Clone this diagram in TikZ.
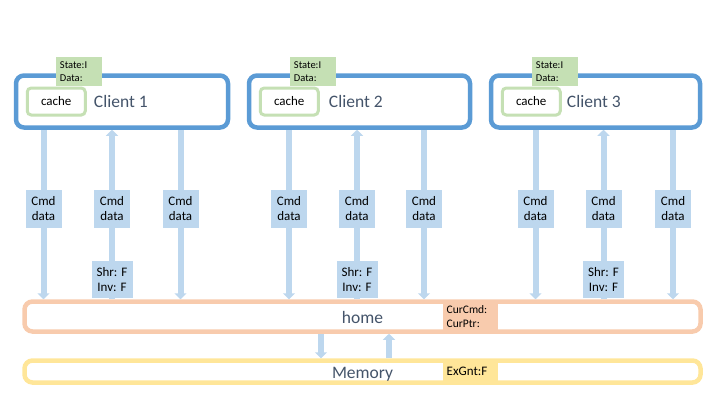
\documentclass[tikz,border=0pt]{standalone}
\usepackage{fontspec}
\setmainfont{Carlito}
\usetikzlibrary{arrows.meta,positioning,backgrounds}
\definecolor{clientblue}{HTML}{5B9BD5}
\definecolor{flowblue}{HTML}{BDD7EE}
\definecolor{cachegreen}{HTML}{C5E0B4}
\definecolor{homepeach}{HTML}{F8CBAD}
\definecolor{memyellow}{HTML}{FFE699}
\definecolor{labelgray}{HTML}{44546A}
\tikzset{
  client/.style    ={rectangle, rounded corners=8pt, draw=clientblue, line width=4.5pt,
                     fill=white, minimum height=52pt},
  cache/.style     ={rectangle, rounded corners=4pt, draw=cachegreen, line width=3pt,
                     fill=white, minimum width=58pt, minimum height=27pt,
                     font=\fontsize{13}{15}\selectfont},
  statebox/.style  ={rectangle, fill=cachegreen, text width=38pt, inner xsep=4pt,
                     minimum height=29pt, align=left, font=\fontsize{10.5}{12.5}\selectfont},
  clientname/.style={inner sep=0pt, text=labelgray, font=\fontsize{17.5}{20}\selectfont},
  msg/.style       ={rectangle, fill=flowblue, minimum width=36pt, minimum height=38pt,
                     inner sep=1pt, align=center, font=\fontsize{13}{15}\selectfont},
  flag/.style      ={msg, minimum width=41pt, minimum height=37pt},
  bar/.style       ={rectangle, rounded corners=8pt, line width=4.5pt, fill=white,
                     minimum width=676pt, inner sep=0pt, text height=14pt, text depth=0pt,
                     text=labelgray, font=\fontsize{17.5}{20}\selectfont},
  regtag/.style    ={rectangle, inner xsep=4pt, inner ysep=1pt, minimum width=55pt,
                     text width=47pt, align=left},
  flow/.style      ={-{Triangle[width=12pt,length=6pt]}, line width=6pt, draw=flowblue},
}

\begin{document}
\begin{tikzpicture}[x=1pt, y=-1pt]
  \useasboundingbox (0,0) rectangle (720,405);
  % clients
  \node[client, minimum width=212pt] (c1) at (122,101.5) {};
  \node[client, minimum width=221pt] (c2) at (359.5,101.5) {};
  \node[client, minimum width=209pt] (c3) at (595.5,101.5) {};
  \node[cache, right=12pt of c1.west] (ca1) {cache};
  \node[cache, right=12pt of c2.west] (ca2) {cache};
  \node[cache, right=12pt of c3.west] (ca3) {cache};
  \node[clientname, right=7pt of ca1] (n1) {Client 1};
  \node[clientname, right=9pt of ca2] (n2) {Client 2};
  \node[clientname, right=5pt of ca3] (n3) {Client 3};
  \node[statebox, above right=0pt and 30pt of ca1.north west] (s1) {State:I\\Data:};
  \node[statebox, above right=0pt and 31pt of ca2.north west] (s2) {State:I\\Data:};
  \node[statebox, above right=0pt and 31pt of ca3.north west] (s3) {State:I\\Data:};
  % home and memory
  \node[bar, draw=homepeach, minimum height=30pt] (home) at (362.5,316.5) {home};
  \node[bar, draw=memyellow, minimum height=22pt] (mem) at (362.5,371.5) {Memory};
  \node[regtag, fill=homepeach, minimum height=27pt, font=\fontsize{11.5}{14}\selectfont,
        right=80pt of home.center] (cur) {CurCmd:\\CurPtr:};
  \node[regtag, fill=memyellow, minimum height=20pt, font=\fontsize{13}{15}\selectfont,
        right=80pt of mem.center] (exg) {ExGnt:F};
  % messages
  \node[msg] (m11) at (43.5,209) {Cmd\\data};
  \node[msg] (m12) at (112,209)  {Cmd\\data};
  \node[msg] (m13) at (180.5,209) {Cmd\\data};
  \node[msg] (m21) at (289,209)  {Cmd\\data};
  \node[msg] (m22) at (357,209)  {Cmd\\data};
  \node[msg] (m23) at (424,209)  {Cmd\\data};
  \node[msg] (m31) at (535.5,209) {Cmd\\data};
  \node[msg] (m32) at (603.5,209) {Cmd\\data};
  \node[msg] (m33) at (673,209)  {Cmd\\data};
  \node[flag, below=33pt of m12] (f1) {Shr: F\\Inv: F};
  \node[flag, below=33pt of m22] (f2) {Shr: F\\Inv: F};
  \node[flag, below=33pt of m32] (f3) {Shr: F\\Inv: F};
  \begin{scope}[on background layer]
    \draw[flow] (m11 |- c1.south) -- (m11 |- home.north);
    \draw[flow] (m12 |- home.north) -- (m12 |- c1.south);
    \draw[flow] (m13 |- c1.south) -- (m13 |- home.north);
    \draw[flow] (m21 |- c2.south) -- (m21 |- home.north);
    \draw[flow] (m22 |- home.north) -- (m22 |- c2.south);
    \draw[flow] (m23 |- c2.south) -- (m23 |- home.north);
    \draw[flow] (m31 |- c3.south) -- (m31 |- home.north);
    \draw[flow] (m32 |- home.north) -- (m32 |- c3.south);
    \draw[flow] (m33 |- c3.south) -- (m33 |- home.north);
    \draw[flow] ([xshift=-41.5pt]home.south) -- ([xshift=-41.5pt]mem.north);
    \draw[flow] ([xshift=26.5pt]mem.north) -- ([xshift=26.5pt]home.south);
  \end{scope}
\end{tikzpicture}
\end{document}
